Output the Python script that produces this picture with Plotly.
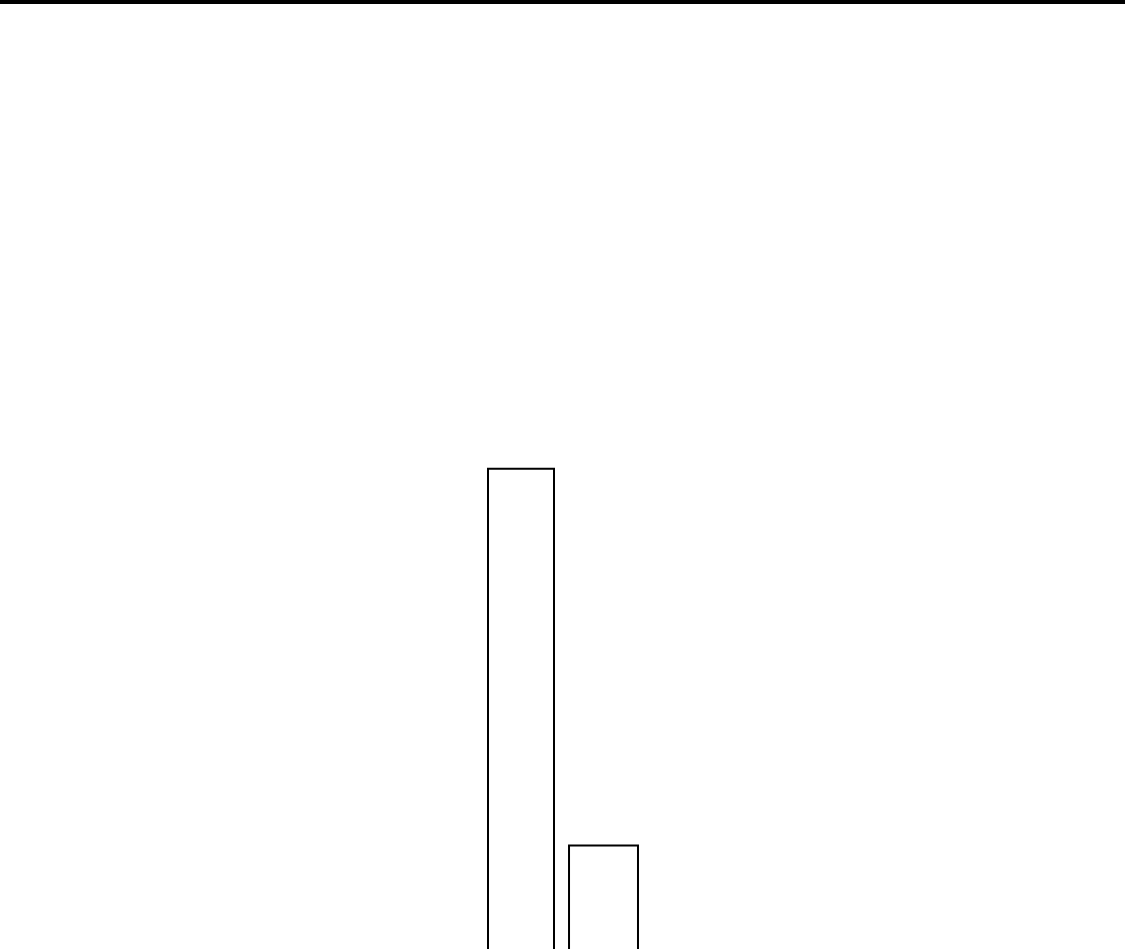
import plotly.graph_objects as go

# two bars, values (axis starts above 0, so bars run off the bottom)
categories = ["A", "B"]
values = [52.6, 12.9]
bar_widths = [0.8, 0.836]

fig = go.Figure()
fig.add_trace(go.Bar(
    x=categories,
    y=values,
    width=bar_widths,
    marker=dict(color="white", line=dict(color="black", width=2)),
    hoverinfo="skip",
))

# thick black rule along the top edge
fig.add_shape(type="rect", xref="paper", yref="paper",
              x0=0, x1=1, y0=1 - 4 / 949, y1=1,
              fillcolor="black", line=dict(width=0))

fig.update_xaxes(range=[-6.315, 7.321], visible=False)
fig.update_yaxes(range=[2, 102], visible=False)
fig.update_layout(
    width=1125, height=949,
    margin=dict(l=0, r=0, t=0, b=0),
    paper_bgcolor="white", plot_bgcolor="white",
    showlegend=False,
)

# drop the browser's default body margin so the figure sits flush in the window
fig.write_html("out.html",
               config={"displayModeBar": False, "staticPlot": True},
               post_script="document.body.style.margin='0';")
